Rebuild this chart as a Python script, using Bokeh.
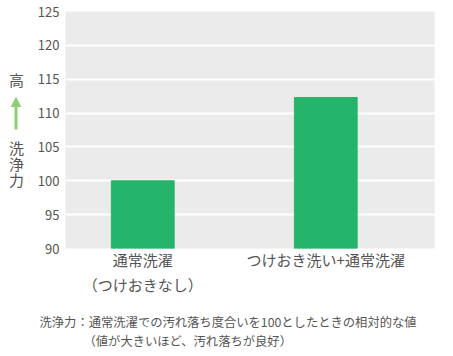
from bokeh.plotting import figure
from bokeh.layouts import row, column
from bokeh.models import Range1d, Label, Arrow, NormalHead, FixedTicker
from bokeh.embed import file_html
from bokeh.resources import INLINE

# ---- data ----
categories = ["通常洗濯\n（つけおきなし）", "つけおき洗い+通常洗濯"]
values = [100.0, 112.3]
y_ticks = [90, 95, 100, 105, 110, 115, 120, 125]
y_side_top = "高"
y_side_bottom = ["洗", "浄", "力"]
note_line1 = "洗浄力：通常洗濯での汚れ落ち度合いを100としたときの相対的な値"
note_line2 = "（値が大きいほど、汚れ落ちが良好）"

FONT = "Noto Sans CJK JP"
TXT = "#555555"
GREEN = "#25b56a"
ARROW_GREEN = "#8fce73"

SIDE_W = 34
MAIN_H = 304
W, H = 453, 356
Y0, Y1 = 90, 125
FT, FB = 11, 248  # frame top / bottom in pixels


def py2y(py):
    # pixel row (from top of page) -> value on the chart's y scale
    return Y0 + (FB - py) / (FB - FT) * (Y1 - Y0)


def bare(fig):
    fig.xaxis.visible = False
    fig.yaxis.visible = False
    fig.xgrid.visible = False
    fig.ygrid.visible = False
    fig.outline_line_color = None
    fig.background_fill_color = None
    fig.border_fill_color = "white"


# ---- main chart ----
x_pos = list(range(len(categories)))
p = figure(width=W - SIDE_W, height=MAIN_H, output_backend="svg", toolbar_location=None,
           x_range=Range1d(-0.422, 1.594), y_range=Range1d(Y0, Y1),
           min_border_left=64 - SIDE_W, min_border_right=19,
           min_border_top=FT, min_border_bottom=MAIN_H - FB)
p.background_fill_color = "#ebebeb"
p.border_fill_color = "white"
p.outline_line_color = None

p.vbar(x=x_pos, top=values, bottom=Y0, width=0.343, fill_color=GREEN, line_color=GREEN)

p.xgrid.visible = False
p.ygrid.ticker = FixedTicker(ticks=y_ticks)
p.ygrid.grid_line_color = "white"
p.ygrid.grid_line_width = 2

xa = p.xaxis[0]
xa.ticker = FixedTicker(ticks=x_pos)
xa.major_label_overrides = {i: c for i, c in zip(x_pos, categories)}
xa.axis_line_color = None
xa.major_tick_line_color = None
xa.minor_tick_line_color = None
xa.major_tick_out = 0
xa.major_tick_in = 0
xa.minor_tick_out = 0
xa.major_label_standoff = 0
xa.major_label_text_font = FONT
xa.major_label_text_font_size = "15px"
xa.major_label_text_color = TXT

ya = p.yaxis[0]
ya.ticker = FixedTicker(ticks=y_ticks)
ya.axis_line_color = None
ya.major_tick_line_color = None
ya.minor_tick_line_color = None
ya.major_tick_out = 0
ya.major_tick_in = 0
ya.minor_tick_out = 0
ya.major_label_standoff = 6
ya.major_label_text_font = FONT
ya.major_label_text_font_size = "13px"
ya.major_label_text_color = TXT

# ---- side label: same vertical frame/scale as the chart ----
s = figure(width=SIDE_W, height=MAIN_H, output_backend="svg", toolbar_location=None,
           x_range=Range1d(0, SIDE_W), y_range=Range1d(Y0, Y1),
           min_border_left=0, min_border_right=0,
           min_border_top=FT, min_border_bottom=MAIN_H - FB)
bare(s)


def lab(fig, text, x, y, size, align="center"):
    fig.add_layout(Label(x=x, y=y, text=text, text_font=FONT,
                         text_font_size=size, text_color=TXT,
                         text_align=align, text_baseline="middle"))


lab(s, y_side_top, 16, py2y(79), "15px")
for i, ch in enumerate(y_side_bottom):
    lab(s, ch, 16, py2y(147 + i * 16), "15px")
s.add_layout(Arrow(x_start=15.5, y_start=py2y(129), x_end=15.5, y_end=py2y(97),
                   line_color=ARROW_GREEN, line_width=3,
                   end=NormalHead(size=9, fill_color=ARROW_GREEN, line_color=ARROW_GREEN)))

# ---- note (pixel coordinates) ----
n = figure(width=W, height=H - MAIN_H, output_backend="svg", toolbar_location=None,
           x_range=Range1d(0, W), y_range=Range1d(H, MAIN_H), min_border=0)
bare(n)
lab(n, note_line1, 39, 321, "12.3px", align="left")
lab(n, note_line2, 83, 340, "12.3px", align="left")

layout = column(row(s, p, spacing=0), n, spacing=0)
open("out.html", "w").write(file_html(layout, INLINE))
